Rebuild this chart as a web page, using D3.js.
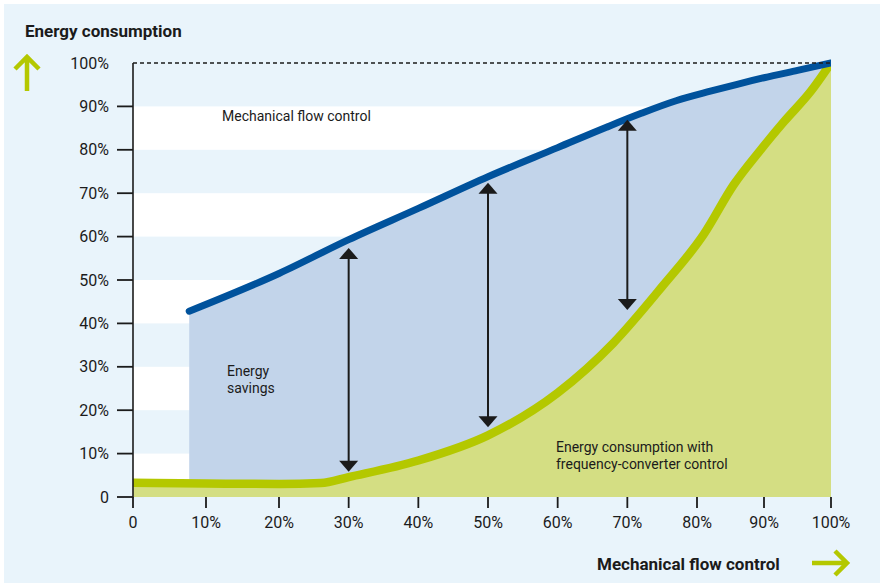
<!DOCTYPE html>
<html>
<head>
<meta charset="utf-8">
<script src="https://cdn.jsdelivr.net/npm/d3@7"></script>
<style>
  body { margin: 0; background: #ffffff; }
  svg { display: block; font-family: Roboto, "Noto Sans", sans-serif; }
</style>
</head>
<body>
<svg id="chart" width="880" height="583"></svg>
<script>
// flow (%) and consumption (%)
const mechFlow = [7.7, 20, 30, 40, 50, 60, 67, 72, 77, 82, 86, 90, 95, 100];
const mechEnergy = [42.8, 51.5, 59.3, 66.5, 73.8, 80.5, 85.2, 88.4, 91.3, 93.5, 95.1, 96.6, 98.3, 100];

const freqFlow = [0, 10, 20, 26, 30, 40, 50, 60, 68, 75, 81, 85.5, 89.5, 93, 97, 100];
const freqEnergy = [3.3, 3.1, 3.0, 3.2, 4.6, 8.4, 14.2, 24, 35.5, 48.5, 60.5, 72, 80, 86.5, 93.5, 100];

// savings arrows: position and where each head points
const arrowFlow = [30, 50, 70];
const arrowTop = [57.4, 72.4, 86.9];
const arrowBottom = [5.8, 16.1, 43.1];

const xTicks = [0, 10, 20, 30, 40, 50, 60, 70, 80, 90, 100];
const yTicks = [0, 10, 20, 30, 40, 50, 60, 70, 80, 90, 100];
const bands = [0, 20, 40, 60, 80]; // white stripes start here, 10% tall

const svg = d3.select("#chart");
const width = 880, height = 583;

// the printed axis is not quite even, so a few anchors are used
const x = d3.scaleLinear().domain([0, 20, 80, 100]).range([133, 279, 697, 831]);
const y = d3.scaleLinear().domain([0, 100]).range([497, 63]);

const lightBlue = "#e9f4fb";
const savingsBlue = "#c2d4ea";
const lineBlue = "#00529c";
const lineGreen = "#b4c800";
const fillGreen = "#d4de83";
const ink = "#1b1b1b";

// background
svg.append("rect")
    .attr("x", 4).attr("y", 4)
    .attr("width", width - 4).attr("height", height - 4)
    .attr("fill", lightBlue);

// stripes
svg.selectAll(".band")
    .data(bands)
    .enter()
    .append("rect")
    .attr("class", "band")
    .attr("x", x(0))
    .attr("y", d => y(d + 10))
    .attr("width", x(100) - x(0))
    .attr("height", d => y(d) - y(d + 10))
    .attr("fill", "#ffffff");

svg.append("clipPath")
    .attr("id", "plotClip")
    .append("rect")
    .attr("x", x(0))
    .attr("y", 0)
    .attr("width", x(100) - x(0))
    .attr("height", y(0));

const mech = mechFlow.map((f, i) => ({ f: f, e: mechEnergy[i] }));
const freq = freqFlow.map((f, i) => ({ f: f, e: freqEnergy[i] }));

const plot = svg.append("g").attr("clip-path", "url(#plotClip)");

// savings area (under the mechanical line)
plot.append("path")
    .datum(mech)
    .attr("d", d3.area()
        .x(d => x(d.f))
        .y0(y(0))
        .y1(d => y(d.e))
        .curve(d3.curveMonotoneX))
    .attr("fill", savingsBlue);

// frequency converter area
plot.append("path")
    .datum(freq)
    .attr("d", d3.area()
        .x(d => x(d.f))
        .y0(y(0))
        .y1(d => y(d.e))
        .curve(d3.curveMonotoneX))
    .attr("fill", fillGreen);

// dashed 100% line
svg.append("line")
    .attr("x1", x(0)).attr("x2", x(100))
    .attr("y1", y(100)).attr("y2", y(100))
    .attr("stroke", ink)
    .attr("stroke-width", 1.4)
    .attr("stroke-dasharray", "4,3");

plot.append("path")
    .datum(freq)
    .attr("d", d3.line()
        .x(d => x(d.f))
        .y(d => y(d.e))
        .curve(d3.curveMonotoneX))
    .attr("fill", "none")
    .attr("stroke", lineGreen)
    .attr("stroke-width", 8.5);

plot.append("path")
    .datum(mech)
    .attr("d", d3.line()
        .x(d => x(d.f))
        .y(d => y(d.e))
        .curve(d3.curveMonotoneX))
    .attr("fill", "none")
    .attr("stroke", lineBlue)
    .attr("stroke-width", 7)
    .attr("stroke-linecap", "round");

// double arrows
const arrows = svg.selectAll(".savingArrow")
    .data(arrowFlow)
    .enter()
    .append("g")
    .attr("class", "savingArrow");

arrows.append("line")
    .attr("x1", d => x(d)).attr("x2", d => x(d))
    .attr("y1", (d, i) => y(arrowTop[i]) + 8)
    .attr("y2", (d, i) => y(arrowBottom[i]) - 8)
    .attr("stroke", ink)
    .attr("stroke-width", 2);

arrows.append("path")
    .attr("d", (d, i) => {
        const cx = x(d), t = y(arrowTop[i]);
        return `M${cx},${t} L${cx - 9.5},${t + 11} L${cx + 9.5},${t + 11} Z`;
    })
    .attr("fill", ink);

arrows.append("path")
    .attr("d", (d, i) => {
        const cx = x(d), b = y(arrowBottom[i]);
        return `M${cx},${b} L${cx - 9.5},${b - 11} L${cx + 9.5},${b - 11} Z`;
    })
    .attr("fill", ink);

// y axis
svg.append("line")
    .attr("x1", x(0)).attr("x2", x(0))
    .attr("y1", y(100)).attr("y2", y(0) + 1)
    .attr("stroke", ink)
    .attr("stroke-width", 1.6);

const yAxis = svg.append("g");
yAxis.selectAll("line")
    .data(yTicks.filter(d => d < 100))
    .enter()
    .append("line")
    .attr("x1", 117).attr("x2", x(0))
    .attr("y1", d => y(d)).attr("y2", d => y(d))
    .attr("stroke", ink)
    .attr("stroke-width", 1.8);

yAxis.selectAll("text")
    .data(yTicks)
    .enter()
    .append("text")
    .attr("x", 109)
    .attr("y", d => y(d))
    .attr("dy", "0.35em")
    .attr("text-anchor", "end")
    .attr("font-size", "16px")
    .attr("fill", ink)
    .text(d => d === 0 ? "0" : d + "%");

// x axis
const xAxis = svg.append("g");
xAxis.selectAll("line")
    .data(xTicks)
    .enter()
    .append("line")
    .attr("x1", d => x(d)).attr("x2", d => x(d))
    .attr("y1", y(0)).attr("y2", y(0) + 11)
    .attr("stroke", ink)
    .attr("stroke-width", 1.8);

xAxis.selectAll("text")
    .data(xTicks)
    .enter()
    .append("text")
    .attr("x", d => x(d))
    .attr("y", 528)
    .attr("text-anchor", "middle")
    .attr("font-size", "16px")
    .attr("fill", ink)
    .text(d => d === 0 ? "0" : d + "%");

// titles
svg.append("text")
    .attr("x", 25).attr("y", 37)
    .attr("font-size", "17px")
    .attr("font-weight", "bold")
    .attr("fill", ink)
    .text("Energy consumption");

svg.append("text")
    .attr("x", 597).attr("y", 570)
    .attr("font-size", "17px")
    .attr("font-weight", "bold")
    .attr("fill", ink)
    .text("Mechanical flow control");

// green direction arrows
svg.append("path")
    .attr("d", "M27,91 L27,57 M15,69 L27,57 L39,69")
    .attr("fill", "none")
    .attr("stroke", lineGreen)
    .attr("stroke-width", 4.5);

svg.append("path")
    .attr("d", "M812,563 L847,563 M835,551 L847,563 L835,575")
    .attr("fill", "none")
    .attr("stroke", lineGreen)
    .attr("stroke-width", 4.5);

// labels in plot
svg.append("text")
    .attr("x", 222).attr("y", 121)
    .attr("font-size", "14px")
    .attr("fill", ink)
    .text("Mechanical flow control");

const savingsLabel = svg.append("text")
    .attr("font-size", "14px")
    .attr("fill", ink);
savingsLabel.append("tspan").attr("x", 227).attr("y", 376).text("Energy");
savingsLabel.append("tspan").attr("x", 227).attr("y", 393).text("savings");

const freqLabel = svg.append("text")
    .attr("font-size", "14px")
    .attr("fill", ink);
freqLabel.append("tspan").attr("x", 556).attr("y", 452).text("Energy consumption with");
freqLabel.append("tspan").attr("x", 556).attr("y", 469).text("frequency-converter control");
</script>
</body>
</html>
